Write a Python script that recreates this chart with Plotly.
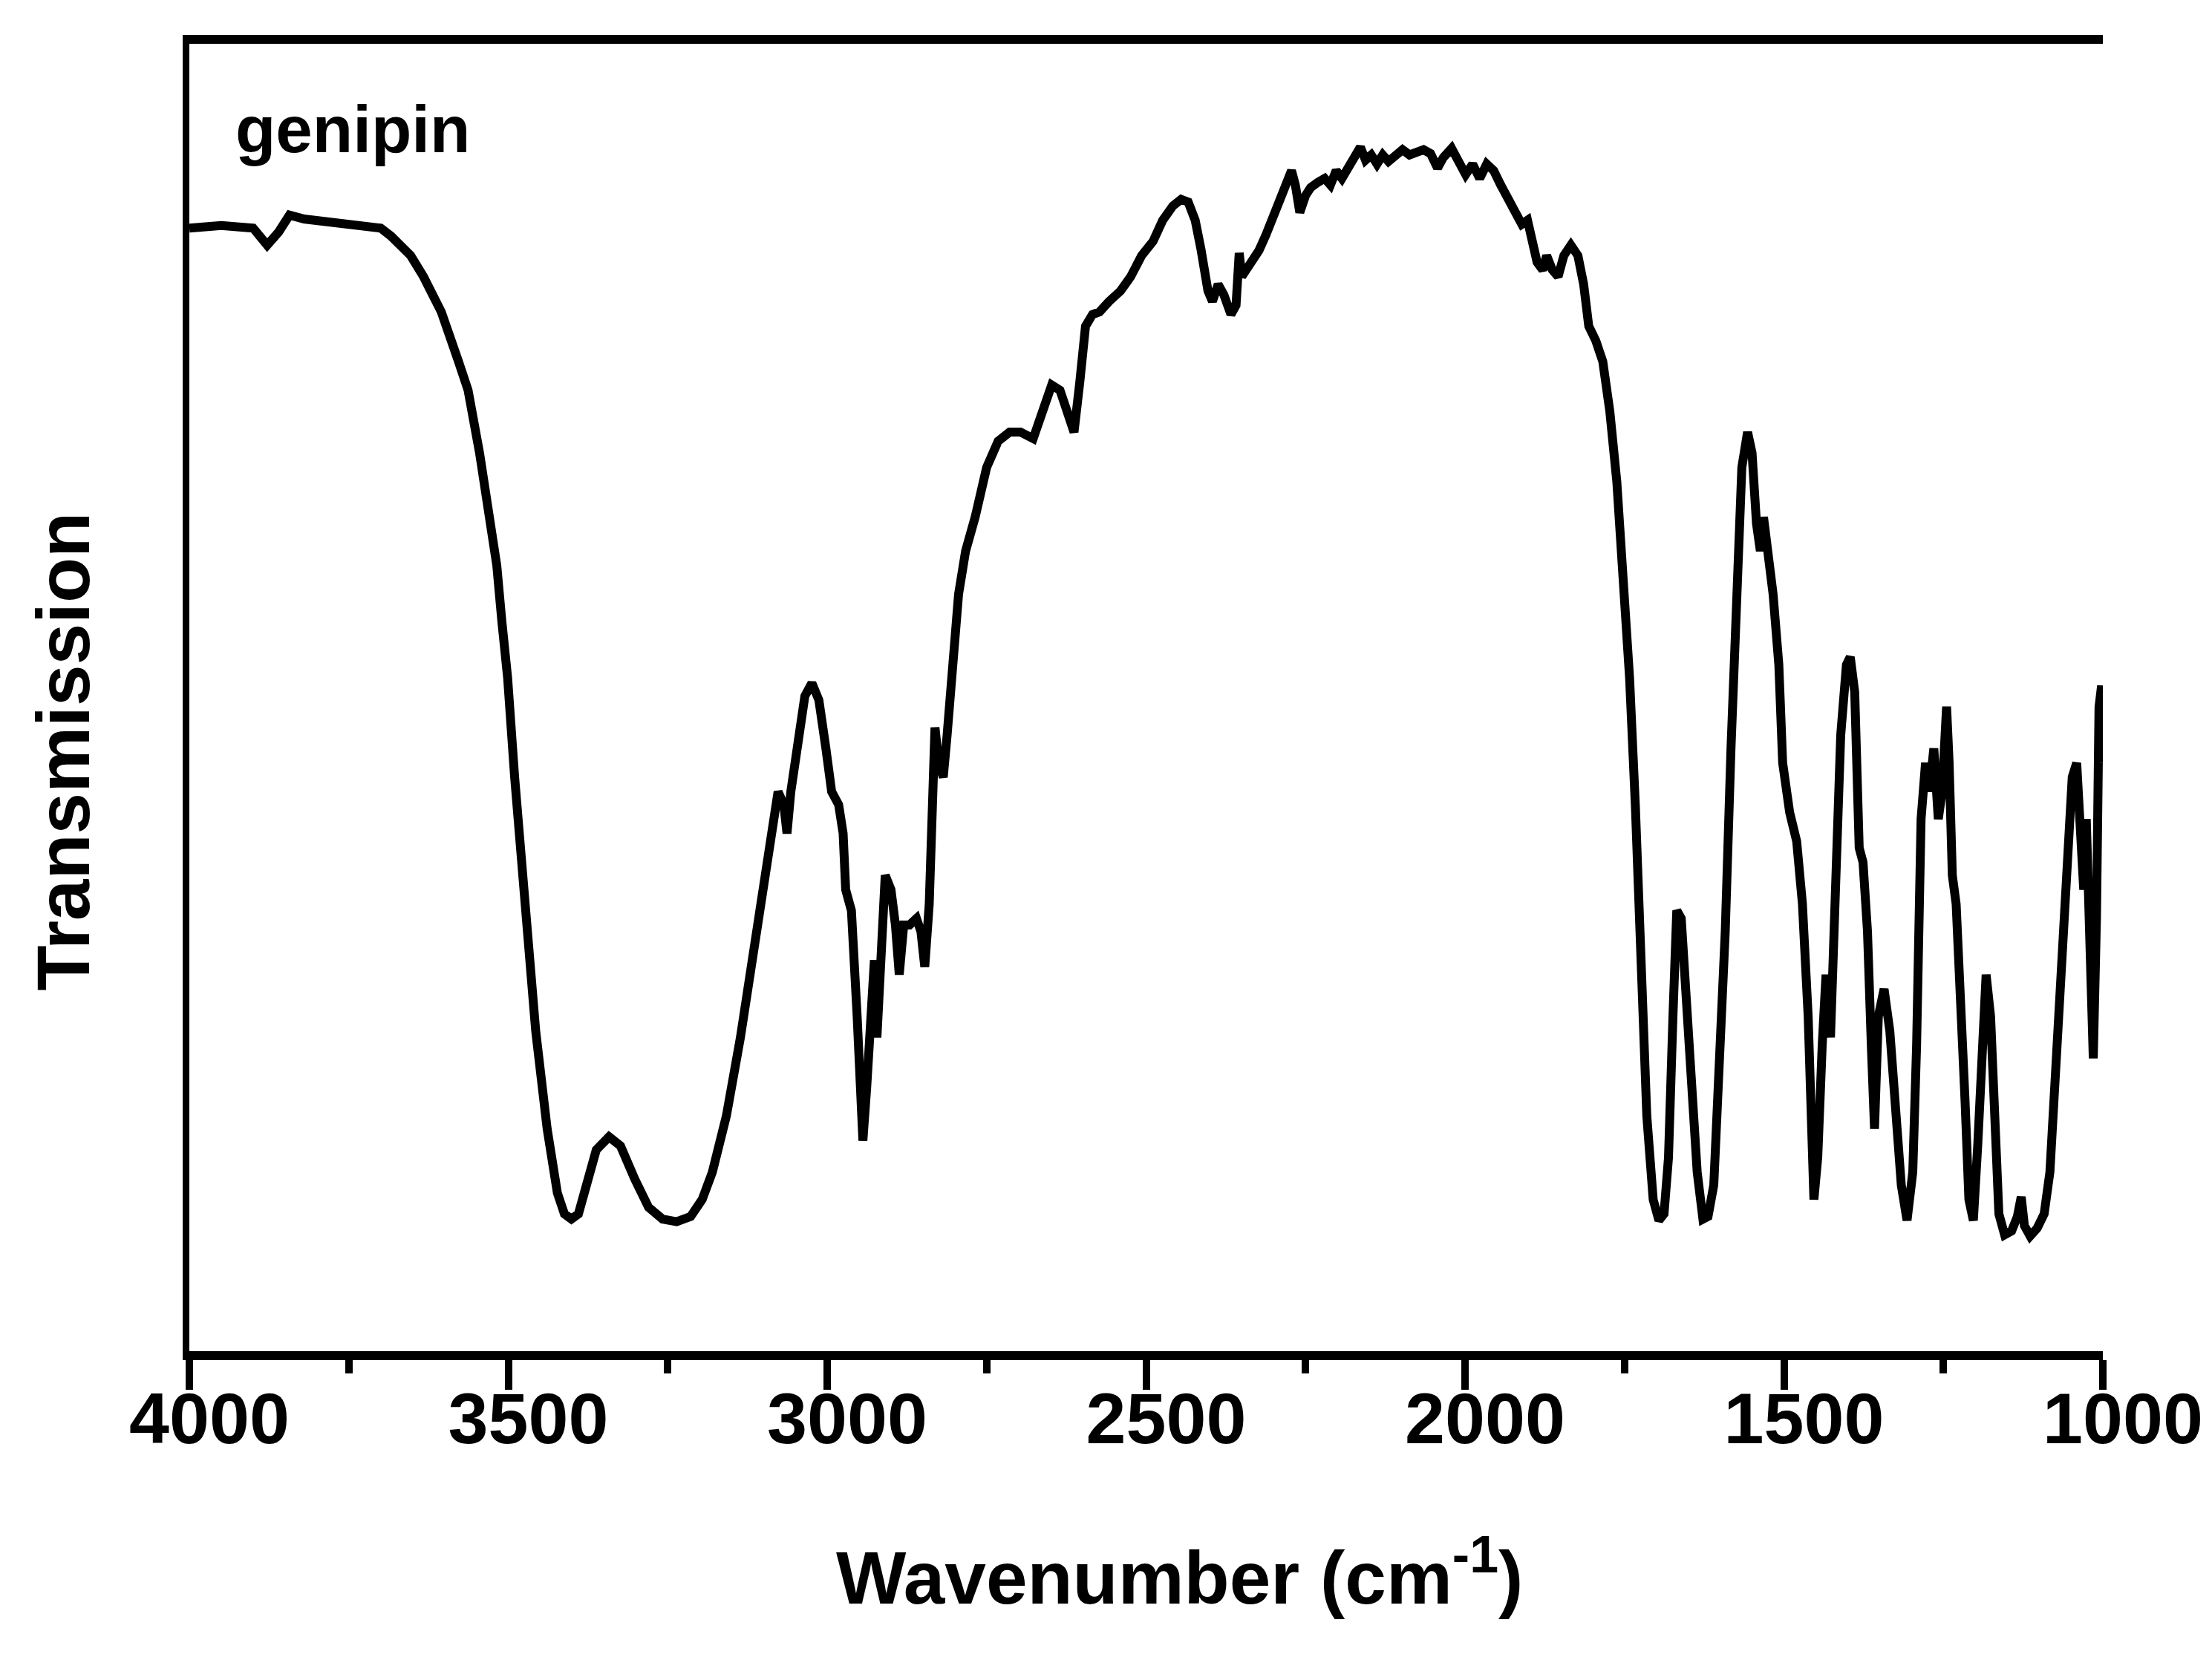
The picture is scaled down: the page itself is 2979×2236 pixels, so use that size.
import plotly.graph_objects as go

# Wavenumber (cm^-1) and transmission (arbitrary units, 0 = bottom of frame, 100 = top)
wavenumber = [
    4000, 3950, 3900, 3878, 3860, 3843, 3820, 3800, 3760, 3726, 3700, 3684, 3653, 3633, 3605, 3578,
    3563, 3545, 3527, 3518, 3510, 3501, 3490, 3474, 3457, 3439, 3423, 3412, 3401, 3390,
    3377, 3362, 3342, 3324, 3302, 3280, 3258, 3236, 3214, 3196, 3180, 3158, 3136, 3114,
    3092, 3077, 3068, 3063, 3057, 3046, 3035, 3024, 3013, 3002, 2993, 2982, 2975, 2971,
    2962, 2953, 2944, 2938, 2931, 2926, 2922, 2915, 2909, 2900, 2893, 2887, 2880, 2871,
    2860, 2853, 2847, 2840, 2836, 2831, 2825, 2818, 2812, 2803, 2794, 2783, 2768, 2750,
    2732, 2714, 2697, 2677, 2661, 2648, 2635, 2624, 2613, 2604, 2595, 2584, 2573, 2558,
    2540, 2524, 2507, 2489, 2474, 2458, 2445, 2434, 2423, 2414, 2403, 2396, 2387, 2378,
    2367, 2359, 2354, 2350, 2343, 2334, 2323, 2312, 2301, 2290, 2279, 2272, 2266, 2259,
    2250, 2242, 2231, 2220, 2211, 2202, 2193, 2182, 2171, 2164, 2156, 2147, 2138, 2129,
    2120, 2109, 2098, 2087, 2076, 2065, 2054, 2043, 2034, 2021, 2010, 1999, 1988, 1977,
    1966, 1955, 1944, 1933, 1922, 1911, 1902, 1896, 1887, 1878, 1872, 1863, 1854, 1845,
    1834, 1823, 1814, 1806, 1795, 1784, 1773, 1762, 1751, 1742, 1733, 1724, 1715, 1705,
    1696, 1688, 1681, 1674, 1668, 1661, 1654, 1645, 1636, 1627, 1619, 1610, 1601, 1592,
    1583, 1574, 1566, 1557, 1550, 1543, 1537, 1532, 1526, 1517, 1508, 1502, 1491, 1480,
    1471, 1462, 1453, 1447, 1440, 1434, 1427, 1420, 1411, 1402, 1396, 1389, 1382, 1376,
    1369, 1363, 1358, 1352, 1343, 1334, 1325, 1316, 1307, 1298, 1292, 1285, 1278, 1272,
    1265, 1258, 1252, 1245, 1241, 1236, 1230, 1223, 1216, 1210, 1203, 1196, 1190, 1183,
    1176, 1170, 1163, 1154, 1143, 1134, 1128, 1123, 1114, 1103, 1092, 1083, 1074, 1065,
    1057, 1048, 1041, 1035, 1030, 1026, 1021, 1015, 1010, 1006, 1002, 1000,
]
transmission = [
    85.9, 86.1, 85.9, 84.6, 85.6, 86.9, 86.6, 86.5, 86.3, 86.0, 85.9, 85.3, 83.8, 82.2, 79.5, 75.7,
    73.5, 68.7, 63.3, 60.1, 55.8, 51.5, 43.9, 34.2, 24.5, 17.0, 12.1, 10.5, 10.1, 10.5,
    12.7, 15.4, 16.4, 15.7, 13.2, 11.0, 10.1, 9.9, 10.3, 11.6, 13.7, 18.0, 24.0, 31.0,
    38.0, 42.8, 41.8, 39.6, 42.8, 47.1, 50.1, 51.1, 49.8, 46.1, 42.8, 41.8, 39.6, 35.3,
    33.7, 25.6, 16.1, 20.2, 27.2, 29.9, 24.0, 32.1, 36.4, 35.3, 32.6, 28.8, 32.6, 32.6,
    33.1, 32.1, 29.4, 34.2, 42.8, 47.7, 45.0, 43.9, 47.1, 52.5, 57.9, 61.2, 63.8, 67.6,
    69.6, 70.3, 70.3, 69.8, 71.9, 73.9, 73.5, 71.9, 70.3, 74.1, 78.4, 79.3, 79.5, 80.3,
    81.1, 82.2, 83.8, 84.9, 86.5, 87.6, 88.1, 87.9, 86.5, 84.3, 81.1, 80.3, 81.6, 80.8,
    79.3, 80.0, 84.0, 82.2, 82.7, 83.6, 84.2, 85.4, 86.8, 88.1, 89.7, 90.3, 89.2, 87.1,
    88.4, 89.0, 89.4, 89.7, 89.2, 90.3, 89.7, 90.5, 91.3, 92.1, 91.1, 91.5, 90.8, 91.5,
    91.0, 91.5, 91.9, 91.5, 91.7, 91.9, 91.6, 90.5, 91.3, 92.0, 91.0, 90.0, 90.8, 89.7,
    90.8, 90.3, 89.2, 88.1, 87.1, 86.2, 86.5, 85.4, 83.3, 82.7, 83.8, 82.7, 82.2, 83.8,
    84.6, 83.8, 81.6, 78.4, 77.3, 75.7, 71.9, 66.5, 59.0, 51.5, 41.8, 29.9, 18.0, 11.6,
    10.0, 10.5, 14.8, 25.6, 33.7, 33.1, 27.7, 21.3, 13.7, 10.1, 10.3, 12.7, 21.3, 32.1,
    46.1, 57.9, 67.6, 70.3, 68.7, 63.3, 61.2, 63.8, 61.7, 57.9, 52.5, 45.0, 41.2, 39.0,
    34.2, 25.6, 11.6, 14.8, 23.4, 28.8, 24.0, 33.1, 47.1, 52.5, 53.1, 50.4, 38.5, 37.4,
    32.1, 23.4, 17.0, 25.6, 27.7, 24.5, 18.0, 12.7, 10.0, 13.7, 23.4, 40.7, 45.0, 42.8,
    46.1, 40.7, 42.8, 49.3, 45.0, 36.4, 34.2, 27.7, 19.1, 11.6, 10.0, 15.9, 23.4, 28.8,
    25.6, 17.0, 10.5, 8.9, 9.2, 10.3, 11.8, 9.6, 8.8, 9.4, 10.5, 13.7, 21.3, 29.9,
    38.5, 43.9, 45.0, 39.6, 35.3, 40.7, 34.2, 22.4, 33.1, 49.3, 50.9, 45.0,
]

x_ticks = [4000, 3500, 3000, 2500, 2000, 1500, 1000]
x_tick_labels = ["4000", "3500", "3000", "2500", "2000", "1500", "1000"]

sample_label = "genipin"
x_title = "Wavenumber (cm<sup>-1</sup>)"
y_title = "Transmission"

FONT = "Liberation Sans, Arial, Helvetica, sans-serif"

fig = go.Figure()
fig.add_trace(go.Scatter(
    x=wavenumber, y=transmission, mode="lines",
    line=dict(color="black", width=12), showlegend=False, hoverinfo="skip",
))

fig.update_layout(
    width=2979, height=2236,
    margin=dict(l=255, r=144, t=59, b=416),
    paper_bgcolor="white", plot_bgcolor="white",
    font=dict(family=FONT, color="black", size=97, weight="bold"),
    xaxis=dict(
        range=[4000, 1000], showgrid=False, zeroline=False,
        showline=True, linecolor="black", linewidth=12, mirror=True,
        ticks="outside", ticklen=40, tickwidth=10, tickcolor="black",
        tickvals=x_ticks, ticktext=x_tick_labels,
        tickfont=dict(family=FONT, size=97, color="black", weight="bold"),
        ticklabelshift=-27, ticklabelstandoff=-44,
        minor=dict(dtick=250, tick0=1000, ticks="outside", ticklen=18, tickwidth=10,
                   tickcolor="black", showgrid=False),
    ),
    yaxis=dict(
        range=[0, 100], showgrid=False, zeroline=False,
        showline=True, linecolor="black", linewidth=9, mirror=False,
        ticks="", showticklabels=False,
    ),
    yaxis2=dict(
        range=[0, 100], overlaying="y", side="right", showgrid=False, zeroline=False,
        showline=True, linecolor="black", linewidth=4, ticks="", showticklabels=False,
    ),
    annotations=[
        dict(text=sample_label, xref="paper", yref="paper", x=0.0233, y=0.9347,
             xanchor="left", yanchor="middle", showarrow=False,
             font=dict(family=FONT, size=89, color="black", weight="bold")),
        dict(text=x_title, xref="paper", yref="paper", x=0.5175, y=-0.169,
             xanchor="center", yanchor="middle", showarrow=False,
             font=dict(family=FONT, size=100, color="black", weight="bold")),
        dict(text=y_title, xref="paper", yref="paper", x=-0.066, y=0.459,
             xanchor="center", yanchor="middle", textangle=-90, showarrow=False,
             font=dict(family=FONT, size=100, color="black", weight="bold")),
    ],
)

fig.write_html("out.html")
